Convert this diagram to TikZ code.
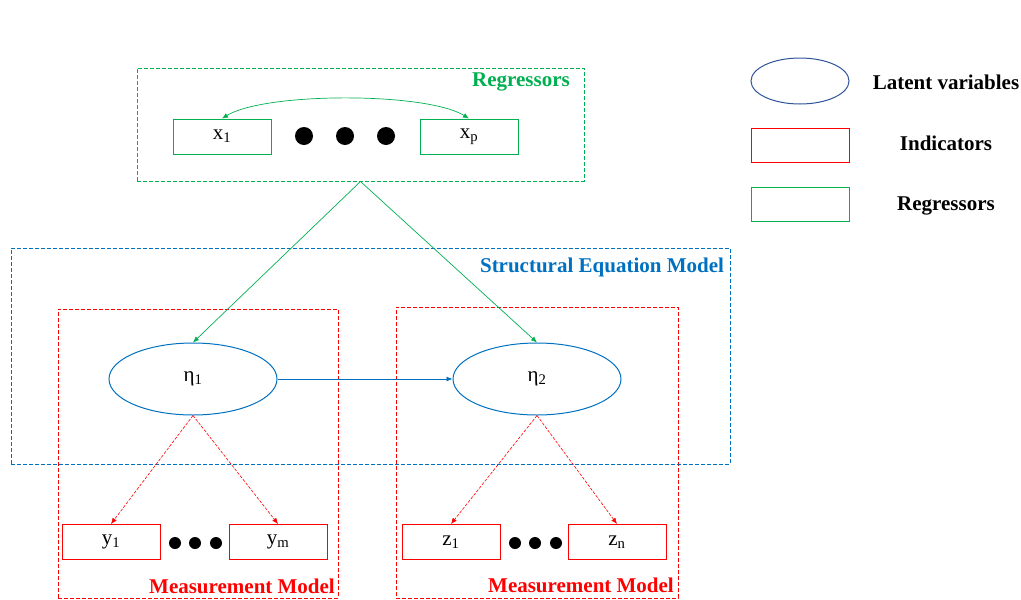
\documentclass[tikz,border=0pt]{standalone}
\usepackage{fontspec}
\setmainfont{Liberation Serif}
\usetikzlibrary{shapes.geometric,arrows.meta}
\definecolor{rgreen}{HTML}{00B050}
\definecolor{sblue}{HTML}{0070C0}
\definecolor{lblue}{HTML}{2F5597}
\definecolor{mred}{HTML}{FF0000}
\tikzset{
  grp/.style={draw, dashed, dash pattern=on 4pt off 2pt, line width=1pt, inner sep=0pt},
  lbl/.style={font=\fontsize{21}{24}\selectfont\bfseries, inner sep=0pt},
  vbox/.style={draw, line width=1pt, minimum width=98pt, minimum height=35pt, inner sep=0pt, font=\fontsize{21}{23}\selectfont},
  lat/.style={draw=sblue, ellipse, line width=1pt, minimum width=168pt, minimum height=72pt, inner sep=0pt, font=\fontsize{21}{23}\selectfont},
  tip/.style={-{Latex[length=6pt,width=5pt]}},
  dot/.style={circle, fill=black, inner sep=0pt},
  legbox/.style={draw, line width=1pt, minimum width=98pt, minimum height=34pt, inner sep=0pt},
  meas/.style={tip, mred, line width=0.6pt, dash pattern=on 3pt off 1.5pt},
}
\begin{document}
\begin{tikzpicture}[x=1pt,y=-1pt]
\useasboundingbox (0,0) rectangle (1021,600);
% group boxes
\node[grp, draw=rgreen, minimum width=447pt, minimum height=113pt] (regbox) at (360.5,124.5) {};
\node[grp, draw=mred, minimum width=280pt, minimum height=289pt] (mleft) at (198,453.5) {};
\node[grp, draw=mred, minimum width=282pt, minimum height=291pt] (mright) at (537,452.5) {};
\node[grp, draw=sblue, minimum width=719pt, minimum height=216pt] (sem) at (370.5,356) {};
% group labels
\node[lbl, text=rgreen] (reglbl) at (521,82) {Regressors};
\node[lbl, text=sblue] (semlbl) at (602,267) {Structural Equation Model};
\node[lbl, text=mred] (mlbl1) at (242,586) {Measurement Model};
\node[lbl, text=mred] (mlbl2) at (581,585) {Measurement Model};
% regressors
\node[vbox, draw=rgreen] (x1) at (222,136.5) {x\textsubscript{1}};
\node[vbox, draw=rgreen] (xp) at (469,136.5) {x\textsubscript{p}};
\node[dot, minimum size=18pt] (d1) at (304,136) {};
\node[dot, minimum size=18pt] (d2) at (345,136) {};
\node[dot, minimum size=18pt] (d3) at (386,136) {};
\draw[rgreen, line width=0.7pt, {Latex[length=6pt,width=5pt]}-{Latex[length=6pt,width=5pt]}]
  (x1.north) .. controls (265,92) and (426,92) .. (xp.north);
% latent
\node[lat] (eta1) at (193,379) {η\textsubscript{1}};
\node[lat] (eta2) at (537,379) {η\textsubscript{2}};
% indicators
\node[vbox, draw=mred] (y1) at (111,542) {y\textsubscript{1}};
\node[vbox, draw=mred] (ym) at (278,542) {y\textsubscript{m}};
\node[vbox, draw=mred] (z1) at (451,542) {z\textsubscript{1}};
\node[vbox, draw=mred] (zn) at (617,542) {z\textsubscript{n}};
\node[dot, minimum size=12pt] (e1) at (175,543) {};
\node[dot, minimum size=12pt] (e2) at (195,543) {};
\node[dot, minimum size=12pt] (e3) at (216,543) {};
\node[dot, minimum size=12pt] (f1) at (515,543) {};
\node[dot, minimum size=12pt] (f2) at (535,543) {};
\node[dot, minimum size=12pt] (f3) at (556,543) {};
% connectors
\draw[tip, rgreen, line width=0.7pt] (regbox.south) -- (eta1.north);
\draw[tip, rgreen, line width=0.7pt] (regbox.south) -- (eta2.north);
\draw[tip, sblue, line width=0.8pt] (eta1) -- (eta2);
\draw[meas] (eta1.south) -- (y1.north);
\draw[meas] (eta1.south) -- (ym.north);
\draw[meas] (eta2.south) -- (z1.north);
\draw[meas] (eta2.south) -- (zn.north);
% legend
\node[draw=lblue, ellipse, line width=1pt, minimum width=98pt, minimum height=46pt, inner sep=0pt] (lgell) at (800,81) {};
\node[legbox, color=mred] (lgred) at (800,145) {};
\node[legbox, color=rgreen] (lggreen) at (800,204) {};
\node[lbl] (lgt1) at (946,82) {Latent variables};
\node[lbl] (lgt2) at (946,143) {Indicators};
\node[lbl] (lgt3) at (946,206) {Regressors};
\end{tikzpicture}
\end{document}
